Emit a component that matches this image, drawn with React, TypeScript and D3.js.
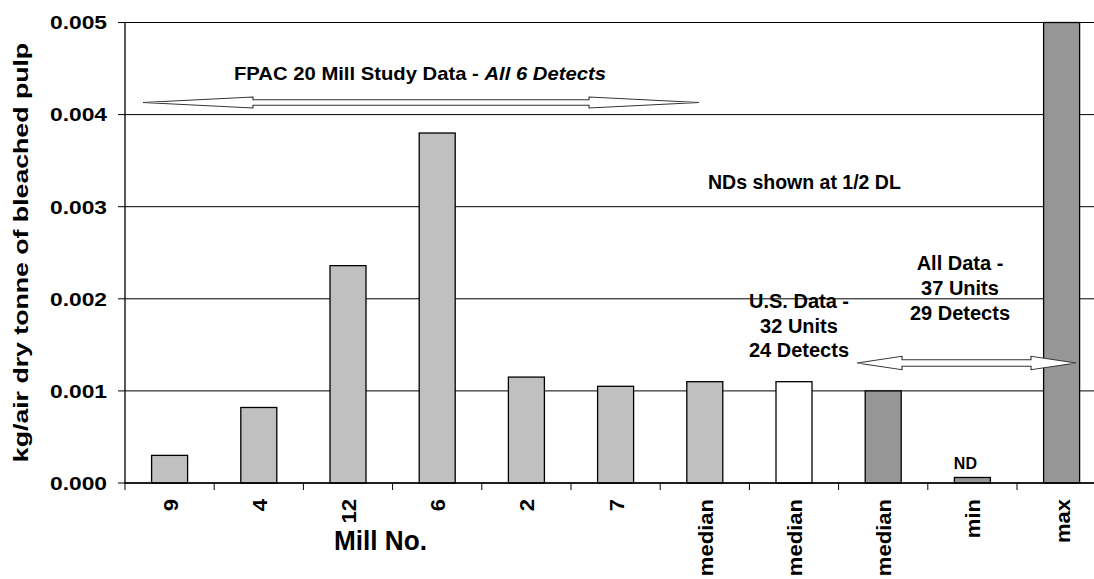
import React from "react";
import * as d3 from "d3";

const categories = ["9", "4", "12", "6", "2", "7", "median", "median", "median", "min", "max"];
const values = [0.0003, 0.00082, 0.00236, 0.0038, 0.00115, 0.00105, 0.0011, 0.0011, 0.001, 0.00006, 0.005];
const fills = ["#c0c0c0", "#c0c0c0", "#c0c0c0", "#c0c0c0", "#c0c0c0", "#c0c0c0", "#c0c0c0", "#ffffff", "#969696", "#969696", "#969696"];
const yTicks = [0, 0.001, 0.002, 0.003, 0.004, 0.005];
const usLines = ["U.S. Data -", "32 Units", "24 Detects"];
const allLines = ["All Data -", "37 Units", "29 Detects"];

const W = 1094;
const H = 579;
const left = 125;
const band = 89.2;
const right = left + band * categories.length;
const top = 22.5;
const bottom = 483;
const FONT = "Arial, 'Liberation Sans', sans-serif";

function doubleArrow(x1: number, x2: number, y: number, head: number, hh: number, sh: number) {
  return [
    [x1, y],
    [x1 + head, y - hh],
    [x1 + head, y - sh],
    [x2 - head, y - sh],
    [x2 - head, y - hh],
    [x2, y],
    [x2 - head, y + hh],
    [x2 - head, y + sh],
    [x1 + head, y + sh],
    [x1 + head, y + hh],
  ]
    .map((p, i) => (i === 0 ? "M" : "L") + p[0] + "," + p[1])
    .join("") + "Z";
}

export default function App() {
  const x = d3.scaleBand<number>().domain(d3.range(categories.length)).range([left, right]).padding(0);
  const y = d3.scaleLinear().domain([0, 0.005]).range([bottom, top]).clamp(true);
  const bw = 36;
  const fmt = d3.format(".3f");
  const cx = (i: number) => (x(i) as number) + x.bandwidth() / 2;

  return (
    <svg width={W} height={H} style={{ display: "block", position: "absolute", left: 0, top: 0 }} fontFamily={FONT}>
      <rect x={0} y={0} width={W} height={H} fill="#fff" />
      {/* horizontal gridlines */}
      {yTicks.map((t) => (
        <line key={"g" + t} x1={left} x2={right} y1={y(t)} y2={y(t)} stroke="#000" strokeWidth={1} />
      ))}
      {/* bars */}
      {values.map((v, i) => (
        <rect
          key={"b" + i}
          x={cx(i) - bw / 2}
          y={y(v)}
          width={bw}
          height={bottom - y(v)}
          fill={fills[i]}
          stroke="#000"
          strokeWidth={1.3}
        />
      ))}
      {/* y axis */}
      <line x1={left} x2={left} y1={top} y2={bottom + 1} stroke="#000" strokeWidth={1.3} />
      {yTicks.map((t) => (
        <g key={"t" + t}>
          <line x1={left - 7} x2={left} y1={y(t)} y2={y(t)} stroke="#000" strokeWidth={1} />
          <text
            transform={`translate(107,${y(t) + 6.8}) scale(1.2,1)`}
            textAnchor="end"
            fontSize={19}
            fontWeight="bold"
          >
            {fmt(t)}
          </text>
        </g>
      ))}
      {/* x axis */}
      <line x1={left} x2={right} y1={bottom} y2={bottom} stroke="#000" strokeWidth={1.3} />
      {d3.range(categories.length + 1).map((i) => {
        const xx = left + i * x.bandwidth();
        return <line key={"xt" + i} x1={xx} x2={xx} y1={bottom} y2={bottom + 7} stroke="#000" strokeWidth={1} />;
      })}
      {categories.map((c, i) => (
        <text
          key={"c" + i}
          transform={`translate(${cx(i) + 8},499) rotate(-90) scale(1.05,1)`}
          textAnchor="end"
          fontSize={21}
          fontWeight="bold"
        >
          {c}
        </text>
      ))}
      <text x={334} y={550} fontSize={27} fontWeight="bold" textLength={93} lengthAdjust="spacingAndGlyphs">
        Mill No.
      </text>
      <text
        transform={`translate(28,252.5) rotate(-90) scale(1.27,1)`}
        textAnchor="middle"
        fontSize={21}
        fontWeight="bold"
      >
        kg/air dry tonne of bleached pulp
      </text>

      {/* annotations */}
      <text x={234} y={80} fontSize={19} fontWeight="bold" textLength={372} lengthAdjust="spacingAndGlyphs">
        FPAC 20 Mill Study Data - <tspan fontStyle="italic">All 6 Detects</tspan>
      </text>
      <path d={doubleArrow(143, 699, 102.5, 110, 5.5, 2.8)} fill="#fff" stroke="#333" strokeWidth={1.1} />

      <text x={708} y={189} fontSize={19.5} fontWeight="bold">
        NDs shown at 1/2 DL
      </text>

      {usLines.map((s, i) => (
        <text key={"us" + i} x={799} y={308 + i * 24.5} textAnchor="middle" fontSize={20} fontWeight="bold">
          {s}
        </text>
      ))}
      {allLines.map((s, i) => (
        <text key={"all" + i} x={960} y={270 + i * 25} textAnchor="middle" fontSize={20} fontWeight="bold">
          {s}
        </text>
      ))}
      <path d={doubleArrow(857, 1076, 363, 45, 6.7, 3.3)} fill="#fff" stroke="#333" strokeWidth={1.1} />

      <text x={cx(9) - 7} y={469} textAnchor="middle" fontSize={16} fontWeight="bold">
        ND
      </text>
    </svg>
  );
}
